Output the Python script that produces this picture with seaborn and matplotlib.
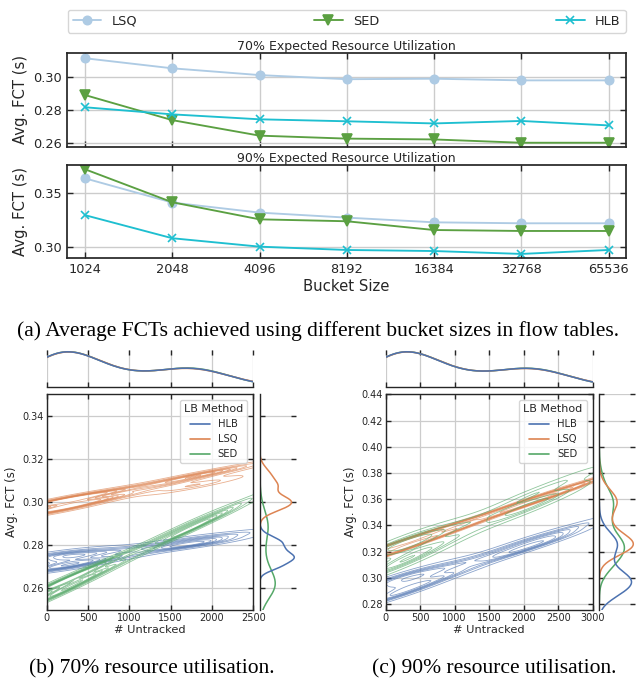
import matplotlib
matplotlib.use("Agg")
import matplotlib.pyplot as plt
import seaborn as sns
import pandas as pd

# ---------------- data: panel (a) ----------------
bucket_sizes = ["1024", "2048", "4096", "8192", "16384", "32768", "65536"]
lsq_70 = [0.3112, 0.3051, 0.3010, 0.2985, 0.2988, 0.2978, 0.2978]
sed_70 = [0.2889, 0.2737, 0.2643, 0.2625, 0.2620, 0.2600, 0.2600]
hlb_70 = [0.2815, 0.2772, 0.2742, 0.2730, 0.2717, 0.2732, 0.2705]
lsq_90 = [0.3640, 0.3413, 0.3319, 0.3272, 0.3228, 0.3219, 0.3219]
sed_90 = [0.3725, 0.3416, 0.3256, 0.3238, 0.3156, 0.3147, 0.3147]
hlb_90 = [0.3295, 0.3079, 0.3000, 0.2969, 0.2959, 0.2932, 0.2969]

# ---------------- data: panel (b) 70% ----------------
x70_hlb = [10, 30, 60, 90, 120, 150, 180, 220, 260, 310, 370, 450, 550, 680, 850, 1050, 1300, 1550, 1650, 1700, 1780, 1850, 2000, 2250]
y70_hlb = [0.2756, 0.2687, 0.2728, 0.2700, 0.2752, 0.2713, 0.2745, 0.2697, 0.2729, 0.2762, 0.2715, 0.2750, 0.2735, 0.2772, 0.2742, 0.2783, 0.2787, 0.2790, 0.2826, 0.2799, 0.2823, 0.2817, 0.2815, 0.2849]
x70_lsq = [20, 30, 70, 90, 130, 150, 190, 220, 270, 310, 380, 450, 560, 680, 860, 1050, 1310, 1550, 1660, 1700, 1790, 1850, 2010, 2300]
y70_lsq = [0.2996, 0.2957, 0.2990, 0.2967, 0.3009, 0.2977, 0.3004, 0.2967, 0.2995, 0.3019, 0.2989, 0.3020, 0.3008, 0.3043, 0.3026, 0.3067, 0.3076, 0.3086, 0.3114, 0.3078, 0.3124, 0.3079, 0.3131, 0.3161]
x70_sed = [10, 40, 60, 100, 120, 160, 180, 230, 260, 320, 370, 460, 550, 690, 850, 1060, 1300, 1560, 1650, 1710, 1780, 1860, 2000, 2220]
y70_sed = [0.2612, 0.2555, 0.2601, 0.2576, 0.2621, 0.2596, 0.2632, 0.2589, 0.2626, 0.2654, 0.2625, 0.2669, 0.2666, 0.2719, 0.2709, 0.2774, 0.2808, 0.2841, 0.2889, 0.2868, 0.2902, 0.2904, 0.2920, 0.2974]

# ---------------- data: panel (c) 90% ----------------
x90_hlb = [10, 40, 70, 110, 140, 180, 220, 260, 310, 370, 440, 540, 660, 820, 1020, 1260, 1560, 1860, 1980, 2040, 2140, 2220, 2400, 2700]
y90_hlb = [0.2982, 0.2847, 0.2932, 0.2879, 0.2984, 0.2911, 0.2977, 0.2884, 0.2953, 0.3023, 0.2935, 0.3012, 0.2992, 0.3079, 0.3033, 0.3134, 0.3165, 0.3196, 0.3277, 0.3227, 0.3284, 0.3277, 0.3288, 0.3379]
x90_lsq = [20, 40, 80, 110, 150, 180, 230, 260, 320, 370, 450, 540, 670, 820, 1030, 1260, 1570, 1860, 1990, 2040, 2150, 2220, 2410, 2750]
y90_lsq = [0.3237, 0.3182, 0.3228, 0.3205, 0.3260, 0.3227, 0.3265, 0.3222, 0.3261, 0.3292, 0.3264, 0.3312, 0.3314, 0.3373, 0.3369, 0.3442, 0.3486, 0.3530, 0.3581, 0.3562, 0.3600, 0.3605, 0.3627, 0.3701]
x90_sed = [10, 50, 70, 120, 140, 190, 220, 270, 310, 380, 440, 550, 660, 830, 1020, 1270, 1560, 1870, 1980, 2050, 2140, 2230, 2400, 2680]
y90_sed = [0.3242, 0.3068, 0.3185, 0.3103, 0.3249, 0.3148, 0.3246, 0.3115, 0.3215, 0.3298, 0.3172, 0.3283, 0.3249, 0.3372, 0.3304, 0.3435, 0.3468, 0.3491, 0.3616, 0.3538, 0.3629, 0.3596, 0.3604, 0.3757]

captions = ["(a) Average FCTs achieved using different bucket sizes in flow tables.",
            "(b) 70% resource utilisation.",
            "(c) 90% resource utilisation."]

sns.set_theme(style="whitegrid")
plt.rcParams['font.family'] = ['DejaVu Sans']

W, H = 639, 679
fig = plt.figure(figsize=(W / 100, H / 100), dpi=100)


def rect(x0, y0, x1, y1):
    return [x0 / W, 1 - y1 / H, (x1 - x0) / W, (y1 - y0) / H]


def frame(ax, lw=1.25, length=4, labelsize=9.3, pad=3.5, glw=1.0):
    for s in ax.spines.values():
        s.set_visible(True)
        s.set_color('.15')
        s.set_linewidth(lw)
    ax.tick_params(direction='in', length=length, width=1, colors='.15',
                   top=True, right=True, bottom=True, left=True,
                   labelsize=labelsize, pad=pad)
    ax.grid(True, color='.8', linewidth=glw)


# ---------------- panel (a) ----------------
col_a = {"LSQ": "#aecbe4", "SED": "#5ba042", "HLB": "#1ebfd0"}
mk_a = {"LSQ": "o", "SED": "v", "HLB": "x"}
ms_a = {"LSQ": 6, "SED": 6.5, "HLB": 6}

ax1 = fig.add_axes(rect(66.7, 53.3, 626, 146.7))
ax2 = fig.add_axes(rect(66.7, 165, 626, 258.3))
panels = [(ax1, {"LSQ": lsq_70, "SED": sed_70, "HLB": hlb_70}, "70% Expected Resource Utilization", (0.2576, 0.3142), [0.26, 0.28, 0.30]),
          (ax2, {"LSQ": lsq_90, "SED": sed_90, "HLB": hlb_90}, "90% Expected Resource Utilization", (0.2891, 0.3765), [0.30, 0.35])]
for ax, series, title, yl, yt in panels:
    for name, vals in series.items():
        sns.lineplot(x=bucket_sizes, y=vals, ax=ax, color=col_a[name], marker=mk_a[name],
                     markersize=ms_a[name], markeredgecolor=col_a[name], markeredgewidth=1.2,
                     linewidth=1.35, label=name, legend=False)
    if ax.get_legend() is not None:
        ax.get_legend().remove()
    frame(ax)
    ax.set_xlim(-0.21, 6.2)
    ax.set_ylim(*yl)
    ax.set_yticks(yt)
    ax.set_yticklabels([f"{v:.2f}" for v in yt])
    ax.set_title(title, fontsize=9, pad=2.5, color='.15')
    ax.set_ylabel("Avg. FCT (s)", fontsize=10.7, labelpad=4)
ax1.tick_params(labelbottom=False)
ax1.set_xlabel("")
ax2.set_xlabel("Bucket Size", fontsize=10.7, labelpad=2)

handles, labels = ax1.get_legend_handles_labels()
leg = fig.legend(handles, labels, loc='center', ncol=3, mode='expand',
                 bbox_to_anchor=rect(67.7, 9.3, 625.7, 33.3), bbox_transform=fig.transFigure,
                 fontsize=9.3, frameon=True, borderaxespad=0, handlelength=2.2)
leg.get_frame().set_edgecolor('.8')

# ---------------- panels (b) and (c) ----------------
hue_order = ["HLB", "LSQ", "SED"]
pal = sns.color_palette("deep")[:3]


def make_df(xh, yh, xl, yl, xs, ys):
    return pd.DataFrame({
        "LB Method": ["HLB"] * len(xh) + ["LSQ"] * len(xl) + ["SED"] * len(xs),
        "# Untracked": xh + xl + xs,
        "Avg. FCT (s)": yh + yl + ys,
    })


def joint_panel(df, jr, mxr, myr, xlim, ylim, xticks, yticks):
    axj = fig.add_axes(rect(*jr))
    axmx = fig.add_axes(rect(*mxr), sharex=axj)
    axmy = fig.add_axes(rect(*myr), sharey=axj)
    sns.kdeplot(data=df, x="# Untracked", y="Avg. FCT (s)", hue="LB Method",
                hue_order=hue_order, palette=pal, ax=axj, linewidths=0.6, alpha=0.65,
                bw_adjust=0.8, warn_singular=False)
    sns.kdeplot(data=df, x="# Untracked", hue="LB Method", hue_order=hue_order,
                palette=pal, ax=axmx, legend=False, linewidth=1.1, bw_adjust=0.95)
    sns.kdeplot(data=df, y="Avg. FCT (s)", hue="LB Method", hue_order=hue_order,
                palette=pal, ax=axmy, legend=False, linewidth=1.1, bw_adjust=0.8)
    frame(axj, lw=1.0, length=3.5, labelsize=7, pad=2, glw=0.9)
    axj.set_xlim(*xlim)
    axj.set_ylim(*ylim)
    axj.set_xticks(xticks)
    axj.set_yticks(yticks)
    axj.set_yticklabels([f"{v:.2f}" for v in yticks])
    axj.set_xlabel("# Untracked", fontsize=8.2, labelpad=1.5)
    axj.set_ylabel("Avg. FCT (s)", fontsize=8.5, labelpad=3)
    sns.move_legend(axj, "upper right", fontsize=7.2, title_fontsize=8, frameon=True,
                    borderaxespad=0.6)
    lg = axj.get_legend()
    lg.get_frame().set_edgecolor('.8')
    for ln in lg.get_lines():
        ln.set_alpha(1)
        ln.set_linewidth(1.2)

    # top marginal
    for side in ["top", "left", "right"]:
        axmx.spines[side].set_visible(False)
    axmx.spines["bottom"].set_color('.15')
    axmx.spines["bottom"].set_linewidth(1.0)
    axmx.tick_params(axis='x', direction='in', top=True, bottom=True, length=3.5, width=1,
                     colors='.15', labelbottom=False, labeltop=False)
    axmx.tick_params(axis='y', left=False, right=False, labelleft=False, labelright=False)
    axmx.grid(True, axis='x', color='.8', linewidth=0.9)
    axmx.grid(False, axis='y')
    axmx.set_xlabel("")
    axmx.set_ylabel("")
    axmx.set_ylim(bottom=0)

    # right marginal
    for side in ["top", "bottom", "right"]:
        axmy.spines[side].set_visible(False)
    axmy.spines["left"].set_color('.15')
    axmy.spines["left"].set_linewidth(1.0)
    axmy.tick_params(axis='y', direction='in', left=True, right=True, length=3.5, width=1,
                     colors='.15', labelleft=False, labelright=False)
    axmy.tick_params(axis='x', bottom=False, top=False, labelbottom=False, labeltop=False)
    axmy.grid(True, axis='y', color='.8', linewidth=0.9)
    axmy.grid(False, axis='x')
    axmy.set_xlabel("")
    axmy.set_ylabel("")
    axmy.set_xlim(left=0)


df70 = make_df(x70_hlb, y70_hlb, x70_lsq, y70_lsq, x70_sed, y70_sed)
df90 = make_df(x90_hlb, y90_hlb, x90_lsq, y90_lsq, x90_sed, y90_sed)

joint_panel(df70, (46.7, 394, 253.3, 610), (46.7, 350, 253.3, 386.7), (260, 394, 296, 610),
            (0, 2500), (0.25, 0.3502), [0, 500, 1000, 1500, 2000, 2500],
            [0.26, 0.28, 0.30, 0.32, 0.34])
joint_panel(df90, (385.7, 394.3, 592.7, 610), (385.7, 350, 592.7, 387), (599.3, 394.3, 635, 610),
            (0, 3000), (0.2755, 0.44), [0, 500, 1000, 1500, 2000, 2500, 3000],
            [0.28, 0.30, 0.32, 0.34, 0.36, 0.38, 0.40, 0.42, 0.44])

# ---------------- captions ----------------
cap_kw = dict(ha='center', va='baseline', fontsize=15.5, family=['Liberation Serif', 'DejaVu Serif'],
              color='black')
fig.text(318 / W, 1 - 336 / H, captions[0], **cap_kw)
fig.text(151.7 / W, 1 - 673 / H, captions[1], **cap_kw)
fig.text(494 / W, 1 - 673 / H, captions[2], **cap_kw)

fig.savefig("out.png", dpi=100)
